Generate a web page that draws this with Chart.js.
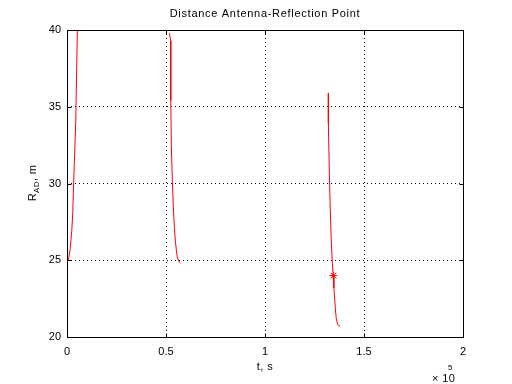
<!DOCTYPE html>
<html><head><meta charset="utf-8">
<script src="https://cdn.jsdelivr.net/npm/chart.js@4.4.0/dist/chart.umd.min.js"></script>
<style>html,body{margin:0;padding:0;background:#fff}#wrap{width:512px;height:384px}</style>
</head><body><div id="wrap"><canvas id="c" width="512" height="384"></canvas></div>
<script>
// time in units of 1e5 s, distance in m
const curve1T = [0.0066, 0.015, 0.024, 0.029, 0.032, 0.037, 0.044, 0.049, 0.053];
const curve1R = [25.0, 25.6, 26.9, 28.1, 29.4, 31.3, 33.9, 37.5, 40.5];
const curve2T = [0.517, 0.524, 0.524, 0.527, 0.532, 0.537, 0.542, 0.547, 0.552, 0.557, 0.566, 0.574];
const curve2R = [39.8, 39.3, 35.4, 32.4, 30.2, 28.5, 27.2, 26.3, 25.7, 25.2, 24.9, 24.8];
const curve3T = [1.320, 1.320, 1.325, 1.330, 1.335, 1.340, 1.345, 1.348, 1.355, 1.360, 1.367, 1.379];
const curve3R = [35.9, 33.9, 30.7, 28.1, 26.2, 24.8, 24.0, 23.2, 21.9, 21.2, 20.8, 20.7];
const markerT = [1.345];
const markerR = [24.0];
const xTicks = [0, 0.5, 1, 1.5, 2];
const yTicks = [20, 25, 30, 35, 40];
const titleText = 'Distance Antenna-Reflection Point';

const pts = (t, r) => t.map((v, i) => ({x: v, y: r[i]}));
const FONT = 'Liberation Sans, Arial, Helvetica, sans-serif';

const lineDs = (t, r) => ({data: pts(t, r), showLine: true, borderColor: '#ff0000', borderWidth: 1,
  pointRadius: 0, fill: false, tension: 0});

const decor = {
  id: 'decor',
  afterDraw(chart) {
    const ctx = chart.ctx, a = chart.chartArea;
    const xs = chart.scales.x, ys = chart.scales.y;
    ctx.save();
    ctx.strokeStyle = '#000'; ctx.lineWidth = 1; ctx.setLineDash([]);
    const L = Math.round(a.left) + 0.5, T = Math.round(a.top) + 0.5;
    const R = Math.round(a.right) + 0.5, B = Math.round(a.bottom) + 0.5;
    ctx.strokeRect(L, T, R - L, B - T);
    ctx.beginPath();
    xTicks.forEach(v => { const px = Math.round(xs.getPixelForValue(v)) + 0.5;
      ctx.moveTo(px, B); ctx.lineTo(px, B - 4);
      ctx.moveTo(px, T); ctx.lineTo(px, T + 4); });
    yTicks.forEach(v => { const py = Math.round(ys.getPixelForValue(v)) + 0.5;
      ctx.moveTo(L, py); ctx.lineTo(L + 4, py);
      ctx.moveTo(R, py); ctx.lineTo(R - 4, py); });
    ctx.stroke();
    ctx.fillStyle = '#000';
    ctx.font = '11px ' + FONT;
    ctx.textAlign = 'center'; ctx.textBaseline = 'middle';
    ctx.letterSpacing = '0.7px';
    ctx.fillText(titleText, (a.left + a.right) / 2, 14);
    ctx.letterSpacing = '0.4px';
    ctx.fillText('t, s', (a.left + a.right) / 2, 367);
    // x10^5
    ctx.textAlign = 'left';
    ctx.fillText('\u00d7 10', 432, 379);
    ctx.font = '8px ' + FONT;
    ctx.fillText('5', 448, 368);
    // y label with subscript
    ctx.translate(33, 183);
    ctx.rotate(-Math.PI / 2);
    ctx.font = '11px ' + FONT;
    const w1 = ctx.measureText('R').width;
    const w3 = ctx.measureText(', m').width;
    ctx.font = '8px ' + FONT;
    const w2 = ctx.measureText('AD').width;
    let x0 = -(w1 + w2 + w3) / 2;
    ctx.textAlign = 'left';
    ctx.font = '11px ' + FONT;
    ctx.fillText('R', x0, 0);
    ctx.font = '8px ' + FONT;
    ctx.fillText('AD', x0 + w1, 4);
    ctx.font = '11px ' + FONT;
    ctx.fillText(', m', x0 + w1 + w2, 0);
    ctx.restore();
  }
};

new Chart(document.getElementById('c'), {
  type: 'scatter',
  data: {datasets: [
    lineDs(curve1T, curve1R),
    lineDs(curve2T, curve2R),
    lineDs(curve3T, curve3R),
    {data: pts(markerT, markerR), showLine: false, pointStyle: 'star', pointRadius: 4,
     borderColor: '#ff0000', backgroundColor: '#ff0000', borderWidth: 1}
  ]},
  options: {
    responsive: false, animation: false, devicePixelRatio: 1,
    layout: {padding: {left: 0, top: 30, right: 49, bottom: 0}},
    plugins: {legend: {display: false}, tooltip: {enabled: false}, title: {display: false}},
    scales: {
      x: {type: 'linear', min: 0, max: 2,
        afterBuildTicks: s => { s.ticks = xTicks.map(v => ({value: v})); },
        afterFit: s => { s.height = 47; },
        ticks: {color: '#000', font: {family: FONT, size: 11}, padding: 8, maxRotation: 0,
          callback: v => String(v)},
        grid: {color: '#000', lineWidth: 1, drawTicks: false},
        border: {display: false, dash: [1, 3]}
      },
      y: {type: 'linear', min: 20, max: 40,
        afterBuildTicks: s => { s.ticks = yTicks.map(v => ({value: v})); },
        afterFit: s => { s.width = 67; },
        ticks: {color: '#000', font: {family: FONT, size: 11}, padding: 6,
          callback: v => String(v)},
        grid: {color: '#000', lineWidth: 1, drawTicks: false},
        border: {display: false, dash: [1, 3]}
      }
    }
  },
  plugins: [decor]
});
</script></body></html>
